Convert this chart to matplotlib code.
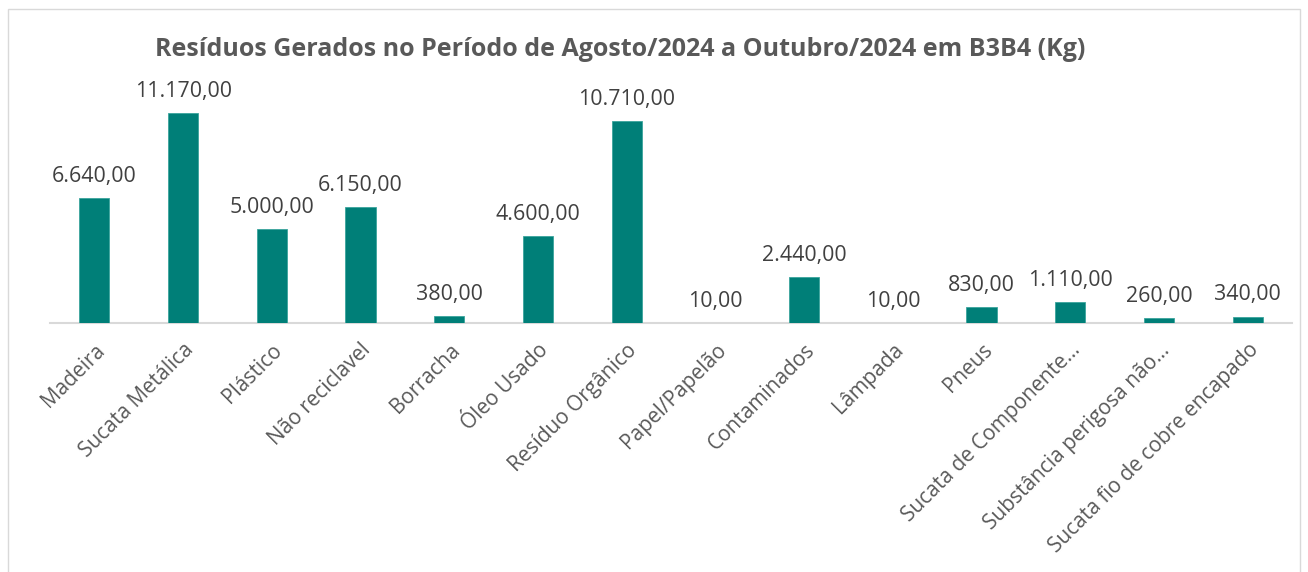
import matplotlib
matplotlib.use("Agg")
import matplotlib.pyplot as plt
from matplotlib.patches import Rectangle

categories = ["Madeira", "Sucata Metálica", "Plástico", "Não reciclavel", "Borracha",
              "Óleo Usado", "Resíduo Orgânico", "Papel/Papelão", "Contaminados", "Lâmpada",
              "Pneus", "Sucata de Componente…", "Substância perigosa não…",
              "Sucata fio de cobre encapado"]
values = [6640, 11170, 5000, 6150, 380, 4600, 10710, 10, 2440, 10, 830, 1110, 260, 340]
title = "Resíduos Gerados no Período de Agosto/2024 a Outubro/2024 em B3B4 (Kg)"

def fmt(v):
    s = f"{v:,.2f}"
    return s.replace(",", "X").replace(".", ",").replace("X", ".")

plt.rcParams['font.family'] = ['Open Sans', 'DejaVu Sans']
W, H = 1308, 572
fig = plt.figure(figsize=(W/100, H/100), dpi=100)
fig.patches.append(Rectangle((8/W, -0.1), (1300-8)/W, 1.1 - 9/H, transform=fig.transFigure,
                             fill=False, edgecolor='#d9d9d9', linewidth=1))

left, right, bottom, top = 50, 1292, 323, 97
ax = fig.add_axes([left/W, 1-bottom/H, (right-left)/W, (bottom-top)/H])
x = list(range(len(categories)))
ax.bar(x, values, width=0.34, color='#007F78', edgecolor='#3aa49c', linewidth=0.6, zorder=3)
ax.set_xlim(-0.5, len(categories)-0.5)
ax.set_ylim(0, 12000)
for xi, v in zip(x, values):
    ax.annotate(fmt(v), (xi, v), xytext=(0, 8), textcoords='offset points',
                ha='center', va='bottom', fontsize=15.4, color='#404040')
for s in ['top', 'right', 'left']:
    ax.spines[s].set_visible(False)
ax.spines['bottom'].set_color('#d9d9d9')
ax.spines['bottom'].set_linewidth(1.5)
ax.set_yticks([])
ax.set_xticks(x)
ax.set_xticklabels(categories, rotation=45, ha='right', rotation_mode='anchor',
                   fontsize=15, color='#595959')
ax.tick_params(axis='x', length=0, pad=12)
fig.text(620/W, 1-49/H, title, ha='center', va='center', fontsize=18,
         fontweight='bold', color='#595959')
fig.savefig("out.png", dpi=100)
